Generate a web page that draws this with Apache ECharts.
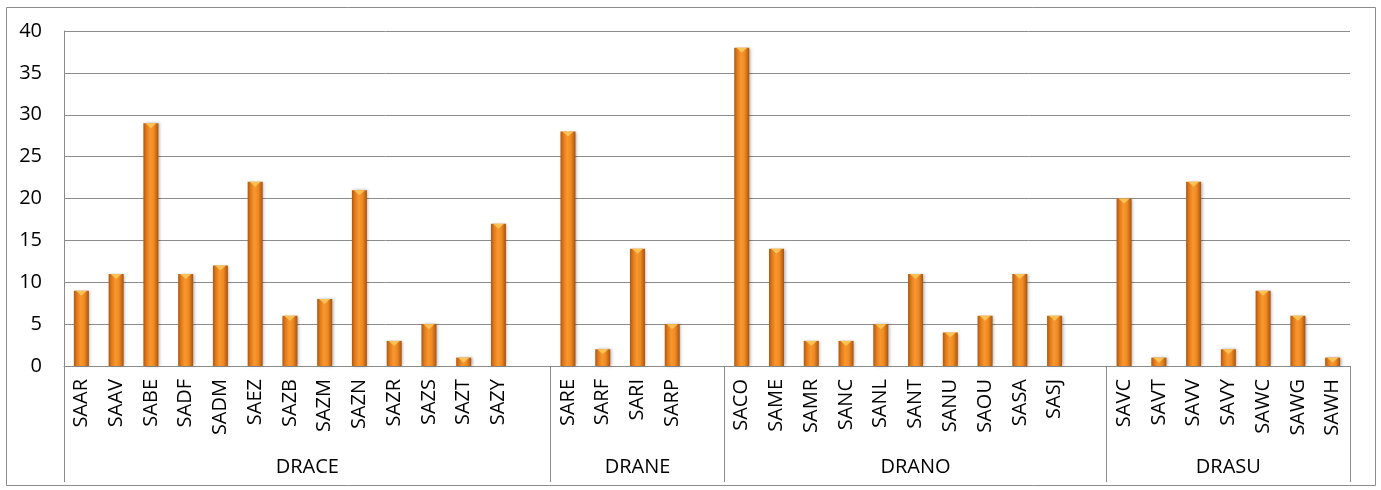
<!DOCTYPE html>
<html>
<head>
<meta charset="utf-8">
<script src="https://cdn.jsdelivr.net/npm/echarts@6/dist/echarts.min.js"></script>
<style>
html,body{margin:0;padding:0;background:#fff;}
#c{width:1381px;height:490px;}
</style>
</head>
<body>
<div id="c"></div>
<script>
// Groups and their stations
var groupNames = ['DRACE', 'DRANE', 'DRANO', 'DRASU'];
var draceCats = ['SAAR','SAAV','SABE','SADF','SADM','SAEZ','SAZB','SAZM','SAZN','SAZR','SAZS','SAZT','SAZY'];
var draceVals = [9, 11, 29, 11, 12, 22, 6, 8, 21, 3, 5, 1, 17];
var draneCats = ['SARE','SARF','SARI','SARP'];
var draneVals = [28, 2, 14, 5];
var dranoCats = ['SACO','SAME','SAMR','SANC','SANL','SANT','SANU','SAOU','SASA','SASJ'];
var dranoVals = [38, 14, 3, 3, 5, 11, 4, 6, 11, 6];
var drasuCats = ['SAVC','SAVT','SAVV','SAVY','SAWC','SAWG','SAWH'];
var drasuVals = [20, 1, 22, 2, 9, 6, 1];
var yTicks = [0, 5, 10, 15, 20, 25, 30, 35, 40];

var groupCats = [draceCats, draneCats, dranoCats, drasuCats];
var groupVals = [draceVals, draneVals, dranoVals, drasuVals];

// Build slot arrays: each group followed by one blank slot (except last)
var cats = [], vals = [], bounds = [0], centers = [];
for (var g = 0; g < groupCats.length; g++) {
  var start = cats.length;
  for (var i = 0; i < groupCats[g].length; i++) { cats.push(groupCats[g][i]); vals.push(groupVals[g][i]); }
  if (g < groupCats.length - 1) { cats.push(''); vals.push('-'); }
  bounds.push(cats.length);
  centers.push((start + cats.length) / 2);
}
var nSlots = cats.length;

var chart = echarts.init(document.getElementById('c'), null, {renderer: 'canvas'});
var gray = '#8c8c8c';
var font = 'Open Sans';
chart.setOption({
  animation: false,
  backgroundColor: '#ffffff',
  graphic: [{
    type: 'rect', silent: true, z: -10,
    shape: {x: 6.5, y: 7.5, width: 1369, height: 478},
    style: {fill: 'none', stroke: gray, lineWidth: 1}
  }],
  grid: {left: 64, right: 31, top: 31, bottom: 124, containLabel: false},
  xAxis: [{
    type: 'category',
    data: cats,
    axisLine: {show: true, lineStyle: {color: gray, width: 1}},
    axisTick: {show: false},
    axisLabel: {interval: 0, rotate: 90, margin: 13, color: '#000', fontFamily: font, fontSize: 20},
    splitLine: {show: false}
  }, {
    type: 'value',
    min: 0, max: nSlots,
    position: 'bottom',
    axisLine: {show: false},
    splitLine: {show: false},
    axisTick: {show: true, customValues: bounds, length: 116, inside: false, lineStyle: {color: gray, width: 1}},
    axisLabel: {
      show: true, customValues: centers, margin: 91,
      color: '#000', fontFamily: font, fontSize: 20,
      formatter: function (v) {
        var idx = centers.indexOf(v);
        return idx >= 0 ? groupNames[idx] : '';
      }
    }
  }],
  yAxis: {
    type: 'value', min: 0, max: 40, interval: 5,
    axisLine: {show: true, lineStyle: {color: gray, width: 1}},
    axisTick: {show: false},
    axisLabel: {margin: 22, color: '#000', fontFamily: font, fontSize: 20,
      formatter: function (v) { return yTicks.indexOf(v) >= 0 ? String(v) : ''; }},
    splitLine: {show: true, lineStyle: {color: gray, width: 1}}
  },
  series: [{
    type: 'bar',
    data: vals,
    barWidth: 15,
    xAxisIndex: 0,
    itemStyle: {
      color: new echarts.graphic.LinearGradient(0, 0, 1, 0, [
        {offset: 0, color: '#b0560f'},
        {offset: 0.2, color: '#e07a1c'},
        {offset: 0.45, color: '#f8982f'},
        {offset: 0.7, color: '#ef8a22'},
        {offset: 1, color: '#a9530e'}
      ]),
      shadowColor: 'rgba(0,0,0,0.3)', shadowBlur: 3, shadowOffsetX: 1.5, shadowOffsetY: 0
    }
  }, {
    type: 'pictorialBar',
    data: vals,
    xAxisIndex: 0,
    symbol: 'triangle',
    symbolRotate: 180,
    symbolSize: [11, 5],
    symbolPosition: 'end',
    symbolOffset: [0, 0],
    z: 3,
    silent: true,
    itemStyle: {color: '#ffc75a', opacity: 0.9}
  }]
});
</script>
</body>
</html>
